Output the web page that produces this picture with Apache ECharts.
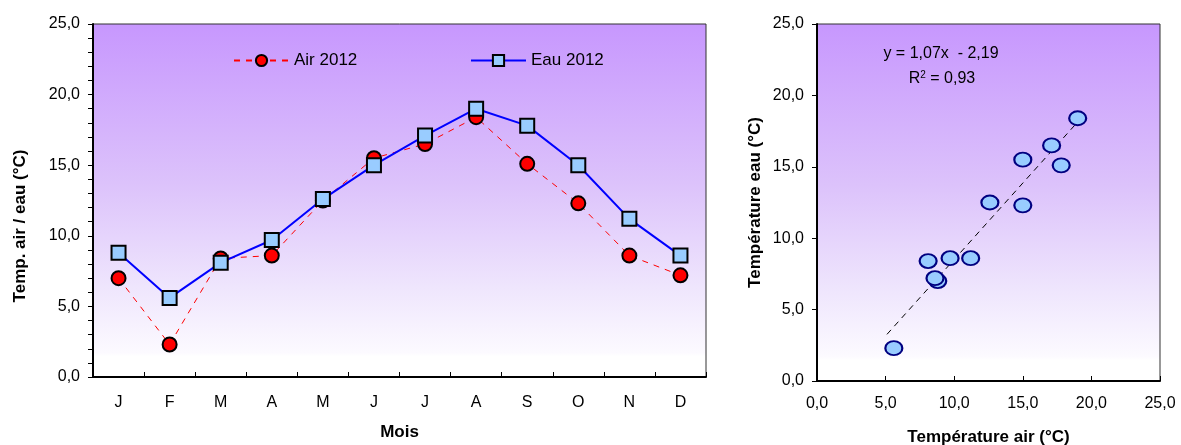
<!DOCTYPE html>
<html>
<head>
<meta charset="utf-8">
<script src="https://cdn.jsdelivr.net/npm/echarts@6/dist/echarts.min.js"></script>
<style>
  html, body { margin: 0; padding: 0; background: #fff; }
  #chart { width: 1181px; height: 445px; }
</style>
</head>
<body>
<div id="chart"></div>
<script>
// months and monthly temperatures (°C), 2012
const months = ["J", "F", "M", "A", "M", "J", "J", "A", "S", "O", "N", "D"];
const air2012 = [7.0, 2.3, 8.4, 8.6, 12.5, 15.5, 16.5, 18.4, 15.1, 12.3, 8.6, 7.2];
const eau2012 = [8.8, 5.6, 8.1, 9.7, 12.6, 15.0, 17.1, 19.0, 17.8, 15.0, 11.2, 8.6];

// regression shown on the scatter
const trendSlope = 1.07;
const trendIntercept = -2.19;
const trendR2 = 0.93;

const font = "'Liberation Sans', Arial, sans-serif";
const fmt = (v) => v.toFixed(1).replace(".", ",");
const fmt2 = (v) => v.toFixed(2).replace(".", ",");

const bg = {
  type: "linear", x: 0, y: 0, x2: 0, y2: 1,
  colorStops: [
    { offset: 0, color: "#c797fe" },
    { offset: 0.45, color: "#dcc2fb" },
    { offset: 0.75, color: "#efe6fd" },
    { offset: 0.93, color: "#fcfaff" },
    { offset: 0.94, color: "#ffffff" },
    { offset: 1, color: "#ffffff" },
  ],
};

// scatter points: x = eau, y = air (as in the source figure)
const pairs = eau2012.map((e, i) => [e, air2012[i]]);
const x0 = Math.min(...eau2012) - 0.5;
const x1 = Math.max(...eau2012) + 0.1;
const trendLine = [
  [x0, trendSlope * x0 + trendIntercept],
  [x1, trendSlope * x1 + trendIntercept],
];

const chart = echarts.init(document.getElementById("chart"));

const axisLine = { show: true, lineStyle: { color: "#000", width: 2 } };
const labelStyle = { color: "#000", fontSize: 16, fontFamily: font };
const nameStyle = { color: "#000", fontSize: 17, fontWeight: "bold", fontFamily: font };
const legendText = { color: "#000", fontSize: 17, fontFamily: font };

chart.setOption({
  animation: false,
  textStyle: { fontFamily: font },
  grid: [
    {
      left: 93, top: 24, width: 613, height: 353, outerBoundsMode: "none",
      show: true, backgroundColor: bg, borderColor: "#333", borderWidth: 1,
    },
    {
      left: 817, top: 24, width: 343, height: 357, outerBoundsMode: "none",
      show: true, backgroundColor: bg, borderColor: "#333", borderWidth: 1,
    },
  ],
  legend: [
    {
      data: ["Air 2012"], left: 228, top: 47, itemGap: 5,
      itemWidth: 55, itemHeight: 14, textStyle: legendText,
    },
    {
      data: ["Eau 2012"], left: 465, top: 47, itemGap: 5,
      itemWidth: 55, itemHeight: 14, textStyle: legendText,
    },
  ],
  xAxis: [
    {
      gridIndex: 0, type: "category", data: months, boundaryGap: true,
      axisLine: axisLine,
      axisTick: { show: true, inside: true, length: 5, lineStyle: { color: "#000" } },
      axisLabel: { ...labelStyle, margin: 18 },
      splitLine: { show: false },
      name: "Mois", nameLocation: "middle", nameGap: 47, nameTextStyle: nameStyle,
    },
    {
      gridIndex: 1, type: "value", min: 0, max: 25, interval: 5,
      axisLine: axisLine,
      axisTick: { show: true, inside: true, length: 5, lineStyle: { color: "#000" } },
      axisLabel: { ...labelStyle, margin: 15, formatter: fmt },
      splitLine: { show: false },
      name: "Température air (°C)", nameLocation: "middle", nameGap: 48, nameTextStyle: nameStyle,
    },
  ],
  yAxis: [
    {
      gridIndex: 0, type: "value", min: 0, max: 25, interval: 5,
      axisLine: axisLine,
      axisTick: { show: true, length: 5, lineStyle: { color: "#000" } },
      minorTick: { show: true, splitNumber: 5, length: 5, lineStyle: { color: "#000" } },
      axisLabel: { ...labelStyle, margin: 13, formatter: fmt },
      splitLine: { show: false },
    },
    {
      gridIndex: 1, type: "value", min: 0, max: 25, interval: 5,
      axisLine: axisLine,
      axisTick: { show: true, length: 5, lineStyle: { color: "#000" } },
      axisLabel: { ...labelStyle, margin: 13, formatter: fmt },
      splitLine: { show: false },
      name: "Température eau (°C)", nameLocation: "middle", nameGap: 53, nameTextStyle: nameStyle,
    },
  ],
  series: [
    {
      name: "Air 2012", type: "line", xAxisIndex: 0, yAxisIndex: 0,
      data: air2012, symbol: "circle", symbolSize: 14,
      lineStyle: { color: "#ff0000", width: 1, type: [6, 6] },
      itemStyle: { color: "#ff0000", borderColor: "#000", borderWidth: 2 },
      z: 2,
    },
    {
      name: "Eau 2012", type: "line", xAxisIndex: 0, yAxisIndex: 0,
      data: eau2012, symbol: "rect", symbolSize: 14,
      lineStyle: { color: "#0000ff", width: 2 },
      itemStyle: { color: "#99ccff", borderColor: "#000", borderWidth: 2 },
      z: 3,
    },
    {
      name: "trend", type: "line", xAxisIndex: 1, yAxisIndex: 1,
      data: trendLine, symbol: "none",
      lineStyle: { color: "#000", width: 1, type: [6, 5] },
      z: 2,
    },
    {
      name: "eau vs air", type: "scatter", xAxisIndex: 1, yAxisIndex: 1,
      data: pairs, symbol: "circle", symbolSize: [17, 14],
      itemStyle: { color: "#99ccff", borderColor: "#000080", borderWidth: 2, opacity: 1 },
      z: 3,
    },
  ],
  graphic: [
    {
      // left y-axis title sits a bit below the plot's middle in the source
      type: "text", x: 20, y: 226, rotation: Math.PI / 2,
      style: {
        text: "Temp. air / eau (°C)", fill: "#000",
        font: "bold 17px " + font, align: "center", verticalAlign: "middle",
      },
    },
    {
      type: "text", x: 941, y: 54,
      style: {
        text: "y = 1,07x  - " + fmt2(-trendIntercept), fill: "#000",
        font: "16px " + font, align: "center", verticalAlign: "middle",
      },
    },
    {
      type: "text", x: 942, y: 79,
      style: {
        text: "R{sup|2} = " + fmt2(trendR2), fill: "#000",
        font: "16px " + font, align: "center", verticalAlign: "middle",
        rich: { sup: { fontSize: 10, fontFamily: font, verticalAlign: "top", padding: [0, 0, 8, 0] } },
      },
    },
  ],
});

window.addEventListener("resize", () => chart.resize());
</script>
</body>
</html>
